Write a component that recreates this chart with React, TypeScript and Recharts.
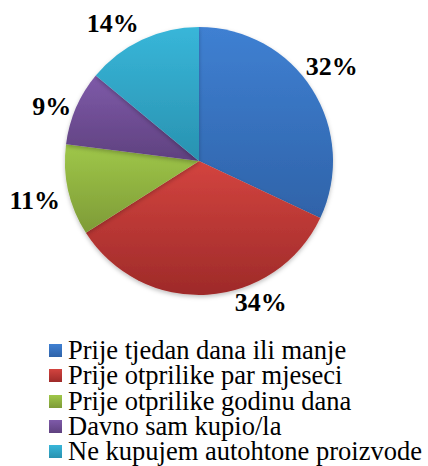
import { Cell, Pie, PieChart } from 'recharts';

document.body.style.margin = '0';

const categories = [
  'Prije tjedan dana ili manje',
  'Prije otprilike par mjeseci',
  'Prije otprilike godinu dana',
  'Davno sam kupio/la',
  'Ne kupujem autohtone proizvode',
];
const shares = [32, 34, 11, 9, 14];

// gradient top / bottom per slice
const topColors = ['#3f80d2', '#d3443f', '#9fc749', '#7e5aa9', '#38b6d9'];
const bottomColors = ['#2f63a9', '#9e2a29', '#7e9b37', '#5f417f', '#2992b0'];

// Excel's "best fit" pushes some labels off the mid angle
const labelNudge = [3, 20, 1, 3, 7];
const labelRadius = [163, 154, 169, 157, 162];

const data = categories.map((name, i) => ({ name, value: shares[i] }));

const RAD = Math.PI / 180;
const serif = '"Liberation Serif", "Times New Roman", serif';

function renderLabel(props: any) {
  const { cx, cy, midAngle, index, value } = props;
  const a = (midAngle + labelNudge[index]) * RAD;
  const r = labelRadius[index];
  const x = cx + r * Math.cos(a);
  const y = cy - r * Math.sin(a);
  return (
    <text
      x={x}
      y={y}
      textAnchor="middle"
      dominantBaseline="central"
      fontFamily={serif}
      fontWeight="bold"
      fontSize={26}
      fill="#000"
    >
      {`${value}%`}
    </text>
  );
}

function LegendList() {
  return (
    <div
      style={{
        position: 'absolute',
        left: 49,
        top: 338,
        fontFamily: serif,
        fontSize: 26.5,
        lineHeight: '25px',
        color: '#000',
      }}
    >
      {categories.map((c, i) => (
        <div
          key={c}
          style={{ display: 'flex', alignItems: 'center', height: 25.3, whiteSpace: 'nowrap' }}
        >
          <span
            style={{
              display: 'inline-block',
              flex: 'none',
              width: 13,
              height: 13,
              marginRight: 6,
              background: `linear-gradient(${topColors[i]}, ${bottomColors[i]})`,
            }}
          />
          <span>{c}</span>
        </div>
      ))}
    </div>
  );
}

export default function App() {
  return (
    <div style={{ position: 'relative', width: 428, height: 466, background: '#fff', overflow: 'hidden' }}>
      <PieChart width={428} height={466} margin={{ top: 0, right: 0, bottom: 0, left: 0 }}>
        <defs>
          {topColors.map((c, i) => (
            <linearGradient key={i} id={`g${i}`} x1="0" y1="0" x2="0" y2="1">
              <stop offset="0%" stopColor={c} />
              <stop offset="100%" stopColor={bottomColors[i]} />
            </linearGradient>
          ))}
          <filter id="shadow" x="-10%" y="-10%" width="120%" height="120%">
            <feDropShadow dx="0" dy="2" stdDeviation="2" floodColor="#000" floodOpacity="0.25" />
          </filter>
        </defs>
        <Pie
          data={data}
          dataKey="value"
          nameKey="name"
          cx={199}
          cy={161}
          outerRadius={134}
          startAngle={90}
          endAngle={-270}
          stroke="none"
          label={renderLabel}
          labelLine={false}
          isAnimationActive={false}
          style={{ filter: 'url(#shadow)' }}
        >
          {data.map((d, i) => (
            <Cell key={d.name} fill={`url(#g${i})`} />
          ))}
        </Pie>
      </PieChart>
      <LegendList />
    </div>
  );
}
